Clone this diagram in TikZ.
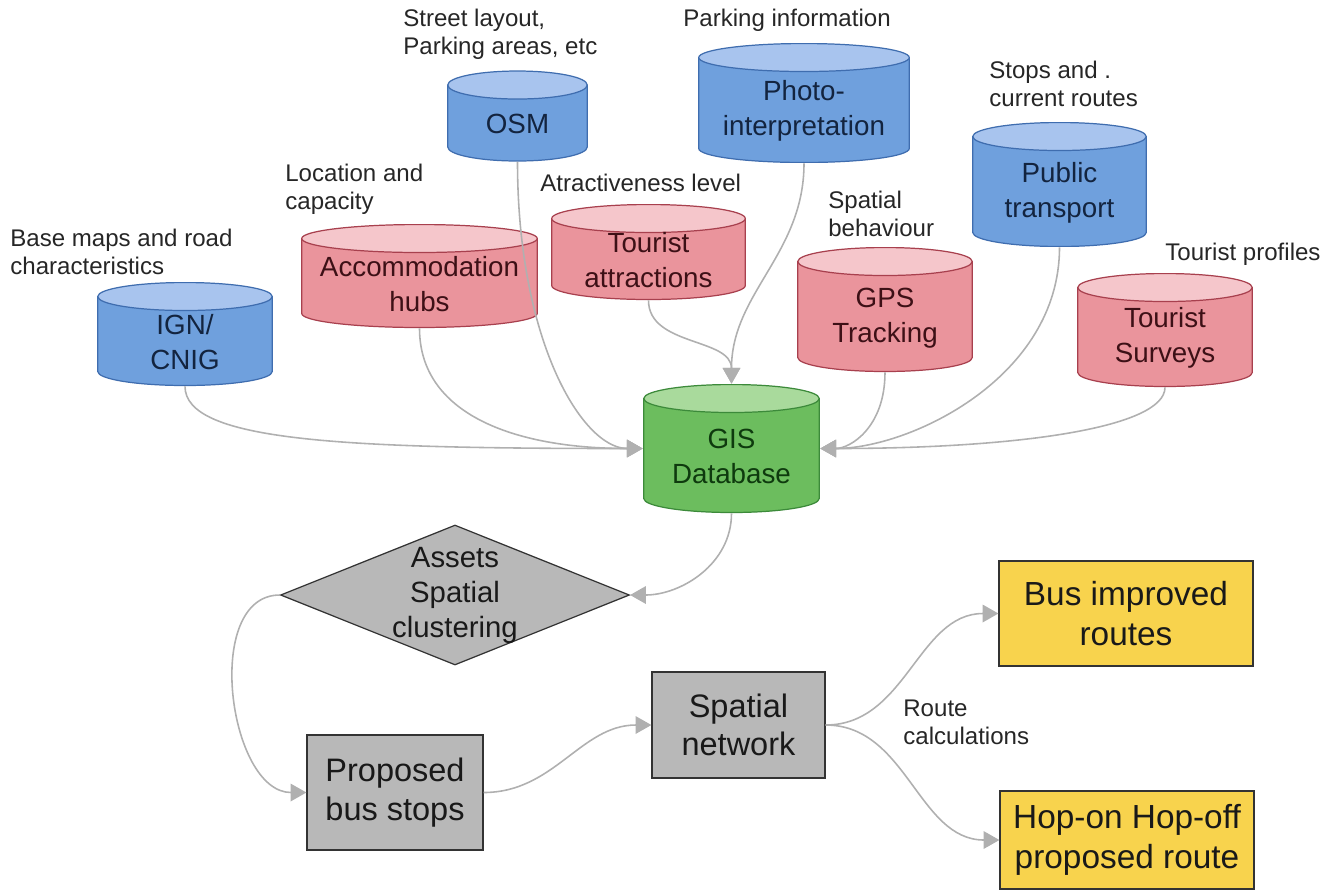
\documentclass[tikz,border=0pt]{standalone}
\usepackage{fontspec}
\setmainfont{Liberation Sans}
\usetikzlibrary{shapes.geometric,arrows.meta,calc}

\definecolor{dbblue}{HTML}{6FA0DD}
\definecolor{dbbluetop}{HTML}{A8C4EE}
\definecolor{dbblueline}{HTML}{3F6DAF}
\definecolor{dbbluetext}{HTML}{13243F}
\definecolor{dbpink}{HTML}{EA949C}
\definecolor{dbpinktop}{HTML}{F5C6CB}
\definecolor{dbpinkline}{HTML}{A8404E}
\definecolor{dbpinktext}{HTML}{3D1016}
\definecolor{dbgreen}{HTML}{6CBD5E}
\definecolor{dbgreentop}{HTML}{A9DA9C}
\definecolor{dbgreenline}{HTML}{3C8A3A}
\definecolor{dbgreentext}{HTML}{0E3A0E}
\definecolor{procgray}{HTML}{B8B8B8}
\definecolor{outyellow}{HTML}{F8D34D}
\definecolor{flowgray}{HTML}{B0B0B0}

\begin{document}
\begin{tikzpicture}[x=0.02cm,y=0.02cm,>={Triangle[length=9pt,width=10pt]},
  dbrise/.store in=\dbrise, dbrise=40.5pt,
  db/.style n args={3}{rectangle,fill=white,inner sep=0pt,align=center,
    font=\fontsize{15.8}{19.9}\selectfont,
    execute at begin node={\rule{0pt}{\dbrise}},
    path picture={
      \draw[fill=#1,draw=#3,line width=0.7pt]
        let \p1=(path picture bounding box.north west),
            \p2=(path picture bounding box.south east),
            \n1={(\x2-\x1)/2-0.4pt} in
        (\x1+0.4pt,\y1-0.29cm) -- (\x1+0.4pt,\y2+0.29cm)
        arc[start angle=180,end angle=360,x radius=\n1,y radius=0.28cm]
        -- (\x2-0.4pt,\y1-0.29cm);
      \draw[fill=#2,draw=#3,line width=0.7pt]
        let \p1=(path picture bounding box.north west),
            \p2=(path picture bounding box.south east),
            \n1={(\x2-\x1)/2-0.4pt} in
        (\x1/2+\x2/2,\y1-0.29cm) ellipse[x radius=\n1,y radius=0.28cm];
    }},
  srcblue/.style={db={dbblue}{dbbluetop}{dbblueline},text=dbbluetext},
  srcpink/.style={db={dbpink}{dbpinktop}{dbpinkline},text=dbpinktext},
  srcgreen/.style={db={dbgreen}{dbgreentop}{dbgreenline},text=dbgreentext},
  note/.style={anchor=west,align=left,inner sep=0pt,text=black!85,
    font=\fontsize{13.7}{15.9}\selectfont},
  decide/.style={diamond,draw=black!80,fill=procgray,line width=0.7pt,inner sep=0pt},
  decidetext/.style={align=center,inner sep=0pt,text=black!90,
    font=\fontsize{16.7}{19.9}\selectfont},
  proc/.style={rectangle,draw=black!80,fill=procgray,line width=0.7pt,align=center,
    inner sep=0pt,text=black!90,font=\fontsize{18.5}{22}\selectfont},
  result/.style={rectangle,draw=black!80,fill=outyellow,line width=0.7pt,align=center,
    inner sep=0pt,text=black!90,font=\fontsize{19}{22.7}\selectfont},
  flow/.style={->,draw=flowgray,line width=0.9pt}]
\useasboundingbox (0,0) rectangle (1336,-894);

% data sources
\node (ign) [srcblue,minimum width=3.52cm,minimum height=2.08cm] at (185,-334) {IGN/\\CNIG};
\node (acc) [srcpink,minimum width=4.74cm,minimum height=2.08cm] at (419.5,-276) {Accommodation\\hubs};
\node (osm) [srcblue,dbrise=20.6pt,minimum width=2.82cm,minimum height=1.82cm] at (517.5,-116) {OSM};
\node (attr) [srcpink,minimum width=3.90cm,minimum height=1.92cm] at (648.5,-252) {Tourist\\attractions};
\node (photo) [srcblue,minimum width=4.24cm,minimum height=2.40cm] at (804,-103) {Photo-\\interpretation};
\node (gps) [srcpink,minimum width=3.52cm,minimum height=2.50cm] at (885,-309.5) {GPS\\Tracking};
\node (pub) [srcblue,minimum width=3.50cm,minimum height=2.50cm] at (1059.5,-184.5) {Public\\transport};
\node (surv) [srcpink,minimum width=3.52cm,minimum height=2.28cm] at (1165,-330) {Tourist\\Surveys};
\node (gis) [srcgreen,minimum width=3.54cm,minimum height=2.58cm] at (731.5,-448.5) {GIS\\Database};

% notes on the sources
\node (nign) [note] at (10,-252) {Base maps and road\\characteristics};
\node (nacc) [note] at (285,-189) {Location and\\capacity};
\node (nosm) [note] at (403,-34) {Street layout,\\Parking areas, etc};
\node (nphoto) [note] at (683,-20) {Parking information};
\node (nattr) [note] at (540,-183) {Atractiveness level};
\node (ngps) [note] at (828,-214) {Spatial\\behaviour};
\node (npub) [note] at (989,-84) {Stops and .\\current routes};
\node (nsurv) [note] at (1165,-254) {Tourist profiles};

% processing chain
\node (clus) [decide,minimum width=6.98cm,minimum height=2.80cm,
  label={[decidetext]center:Assets\\Spatial\\clustering}] at (455,-595) {};
\node (stops) [proc,minimum width=3.52cm,minimum height=2.30cm] at (395,-792.5) {Proposed\\bus stops};
\node (net) [proc,minimum width=3.46cm,minimum height=2.12cm] at (738.5,-725) {Spatial\\network};
\node (busr) [result,minimum width=5.08cm,minimum height=2.10cm] at (1126,-613.5) {Bus improved\\routes};
\node (hoho) [result,minimum width=5.08cm,minimum height=1.96cm] at (1127,-840) {Hop-on Hop-off\\proposed route};
\node (rcalc) [note] at (903,-722) {Route\\calculations};

\draw[flow] (ign.south) .. controls +(0,-55) and +(-300,0) .. (gis.west);
\draw[flow] (acc.south) .. controls +(0,-85) and +(-130,0) .. (gis.west);
\draw[flow] (osm.south) .. controls +(0,-180) and +(-60,0) .. (gis.west);
\draw[flow] (attr.south) to[out=-90,in=90] (gis.north);
\draw[flow] (photo.south) to[out=-90,in=90] (gis.north);
\draw[flow] (gps.south) .. controls +(0,-55) and +(30,0) .. (gis.east);
\draw[flow] (pub.south) .. controls +(0,-130) and +(90,0) .. (gis.east);
\draw[flow] (surv.south) .. controls +(0,-40) and +(200,0) .. (gis.east);
\draw[flow] (gis.south) to[out=-90,in=0] (clus.east);
\draw[flow] (clus.west) to[out=180,in=180] (stops.west);
\draw[flow] (stops.east) to[out=0,in=180] (net.west);
\draw[flow] (net.east) to[out=0,in=180] (busr.west);
\draw[flow] (net.east) to[out=0,in=180] (hoho.west);
\end{tikzpicture}
\end{document}
